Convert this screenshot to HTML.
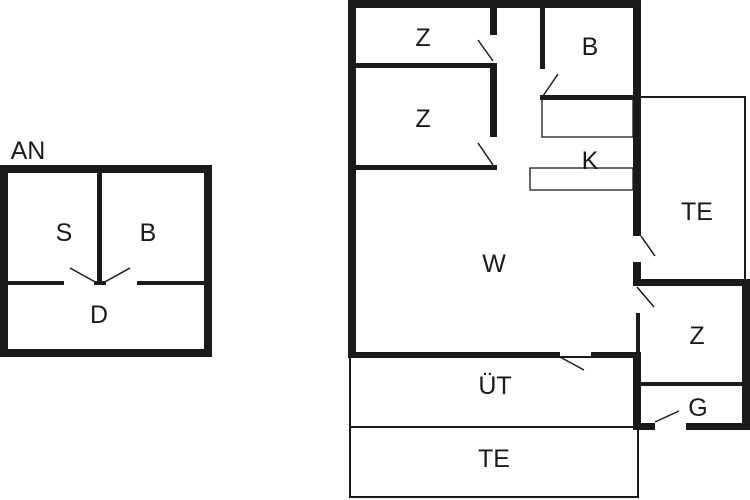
<!DOCTYPE html>
<html><head><meta charset="utf-8"><style>
html,body{margin:0;padding:0;background:#fff;}
svg{display:block;}
text{font-family:"Liberation Sans",sans-serif;font-size:25px;fill:#1a1a1a;text-anchor:middle;}
</style></head><body>
<svg width="750" height="500" viewBox="0 0 750 500" xmlns="http://www.w3.org/2000/svg">
<rect width="750" height="500" fill="#fff"/>
<g fill="#1a1a1a">
<!-- left house -->
<rect x="0" y="165" width="212" height="8"/>
<rect x="0" y="165" width="8" height="192"/>
<rect x="204" y="165" width="8" height="192"/>
<rect x="0" y="349" width="212" height="8"/>
<rect x="97" y="173" width="5" height="112"/>
<rect x="8" y="281" width="56" height="4"/>
<rect x="137" y="281" width="67" height="4"/>
<rect x="94" y="281" width="12" height="4"/>
<!-- main outer -->
<rect x="348" y="0" width="293" height="8"/>
<rect x="348" y="0" width="8" height="358"/>
<rect x="633" y="0" width="8" height="236"/>
<rect x="633" y="262" width="8" height="24"/>
<rect x="633" y="279" width="117" height="7"/>
<rect x="742" y="279" width="8" height="151"/>
<rect x="636" y="313" width="4" height="40"/>
<rect x="633" y="352" width="8" height="78"/>
<rect x="348" y="352" width="212" height="6"/>
<rect x="591" y="352" width="50" height="6"/>
<rect x="633" y="423" width="22" height="7"/>
<rect x="686" y="423" width="64" height="7"/>
<rect x="640" y="382" width="105" height="4"/>
<!-- Z rooms -->
<rect x="490" y="8" width="7" height="27"/>
<rect x="356" y="63" width="141" height="5"/>
<rect x="490" y="63" width="7" height="74"/>
<rect x="356" y="165" width="141" height="5"/>
<!-- B -->
<rect x="540" y="8" width="5" height="61"/>
<rect x="540" y="95" width="101" height="5"/>
</g>
<g stroke="#1a1a1a" fill="none" stroke-width="1.5">
<line x1="70" y1="268" x2="97" y2="283"/>
<line x1="130" y1="268" x2="103" y2="283"/>
<line x1="478" y1="40" x2="493" y2="61"/>
<line x1="478" y1="143" x2="493" y2="165"/>
<line x1="558" y1="74" x2="543" y2="96"/>
<line x1="641" y1="236" x2="655" y2="256"/>
<line x1="637" y1="287" x2="654" y2="307"/>
<line x1="560" y1="357" x2="584" y2="370"/>
<line x1="655" y1="422" x2="679" y2="411"/>
<!-- counters -->
<rect x="542" y="99" width="91" height="38" stroke-width="1.3"/>
<rect x="530" y="168" width="103" height="22" stroke-width="1.3"/>
<!-- terrace top right -->
<polyline points="641,97 745,97 745,279" stroke-width="2"/>
<!-- bottom boxes -->
<rect x="350" y="357" width="288" height="140" stroke-width="2"/>
<line x1="350" y1="427" x2="638" y2="427" stroke-width="2"/>
</g>
<text x="28" y="159">AN</text>
<text x="64" y="241">S</text>
<text x="148" y="241">B</text>
<text x="99" y="323">D</text>
<text x="423" y="46">Z</text>
<text x="423" y="127">Z</text>
<text x="590" y="55">B</text>
<text x="590" y="169">K</text>
<text x="697" y="220">TE</text>
<text x="494" y="272">W</text>
<text x="697" y="344">Z</text>
<text x="698" y="416">G</text>
<text x="495" y="394">ÜT</text>
<text x="494" y="467">TE</text>
</svg>
</body></html>
